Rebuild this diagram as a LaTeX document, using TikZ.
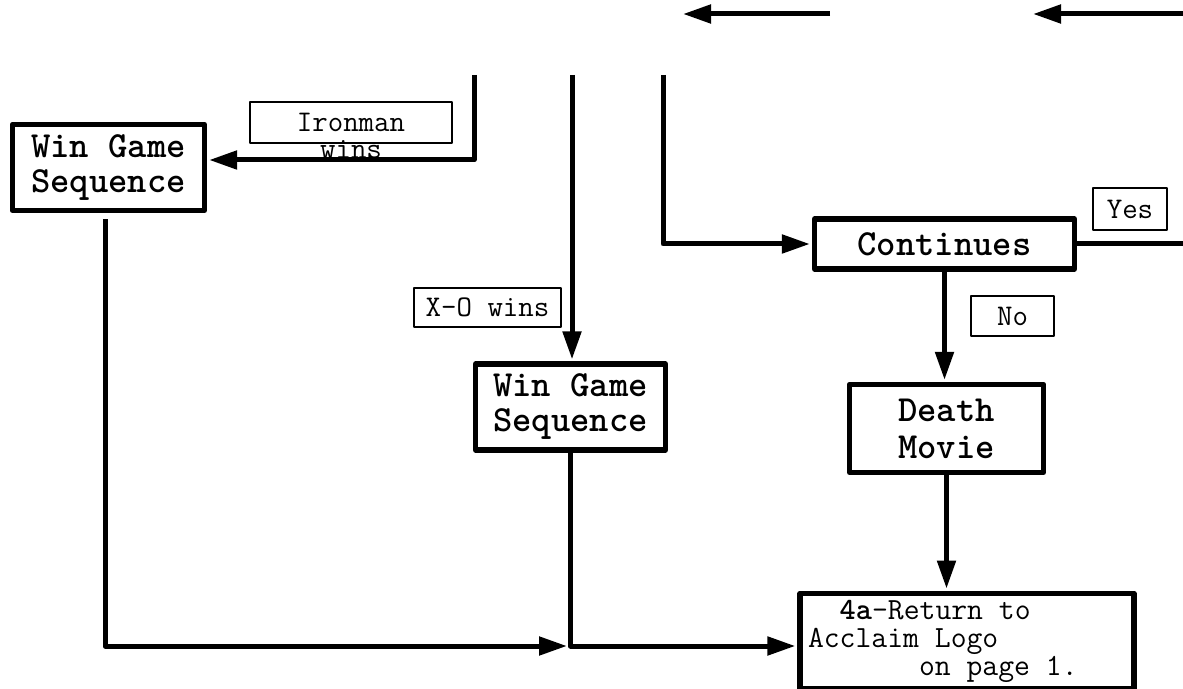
\documentclass[tikz,border=0pt]{standalone}
\usepackage{fontspec}
\usetikzlibrary{arrows.meta}
\newcommand\gap{\hphantom{0}}

\begin{document}
\begin{tikzpicture}[
    x=0.5pt, y=-0.5pt,
    box/.style={draw, line width=2.6pt, align=center, inner sep=0pt,
        font=\ttfamily\bfseries\fontsize{18.4}{17.5}\selectfont},
    lbl/.style={draw, line width=1.1pt, inner sep=0pt,
        font=\ttfamily\fontsize{15}{13.5}\selectfont},
    arrow/.style={-{Triangle[length=14pt,width=9pt]}, line width=2.5pt, shorten >=1pt},
    line/.style={line width=2.5pt},
    line join=round
  ]
  \useasboundingbox (0,0) rectangle (1183,689);

  \node[box, minimum width=96pt, minimum height=43pt] (win1) at (108.5,167.5) {Win Game\\Sequence};
  \node[box, minimum width=95pt, minimum height=43pt] (win2) at (570.5,407) {Win Game\\Sequence};
  \node[box, minimum width=130pt, minimum height=25pt] (cont) at (944.5,244) {Continues};
  \node[box, minimum width=97pt, minimum height=44pt,
        font=\ttfamily\bfseries\fontsize{18.4}{18.5}\selectfont] (death) at (946.5,428.5) {Death\\Movie};
  \node[draw, line width=2.6pt, align=left, text width=159pt, inner xsep=4pt, minimum height=45pt,
        font=\ttfamily\fontsize{15.4}{14}\selectfont] (ret) at (967,641)
        {\gap\gap\textbf{4a}-Return\gap to\\Acclaim\gap Logo\\\gap\gap\gap\gap\gap\gap\gap on\gap page\gap 1.};

  \node[lbl, minimum width=101pt, minimum height=20.5pt] (ironbox) at (351,122.5) {};
  \node[font=\ttfamily\fontsize{15}{13.5}\selectfont, align=center, inner sep=0pt] (irontxt) at (351,136) {Ironman\\wins};
  \node[lbl, minimum width=73.5pt, minimum height=19.5pt] (xo) at (487.5,307.5) {X-O\gap wins};
  \node[lbl, minimum width=37pt, minimum height=21pt] (yes) at (1130,209) {Yes};
  \node[lbl, minimum width=41.5pt, minimum height=20pt] (no) at (1012.5,316) {No};

  \coordinate (t1s) at (830,14);
  \coordinate (t1e) at (683,14);
  \coordinate (t2s) at (1183,14);
  \coordinate (t2e) at (1033,14);
  \coordinate (c1) at (474,75);
  \coordinate (c1turn) at (474,160);
  \coordinate (c2) at (572,75);
  \coordinate (c3) at (663,75);
  \coordinate (yesend) at (1183,242);
  \coordinate (join) at (572,646);

  \draw[arrow, shorten >=0pt] (t1s) -- (t1e);
  \draw[arrow, shorten >=0pt] (t2s) -- (t2e);
  \draw[arrow] (c1) -- (c1turn) -- (c1turn -| win1.east);
  \draw[arrow] (c2) -- (c2 |- win2.north);
  \draw[arrow] (c3) |- (cont.west);
  \draw[line] (cont.east) -- (cont.east -| yesend);
  \draw[arrow] (cont.south) -- (cont.south |- death.north);
  \draw[arrow] (death.south) -- (death.south |- ret.north);
  \draw[arrow, shorten >=2.5pt] ([xshift=-1.75pt, yshift=-3pt]win1.south) |- (join);
  \draw[arrow] (win2.south) |- (join -| ret.west);
\end{tikzpicture}
\end{document}
